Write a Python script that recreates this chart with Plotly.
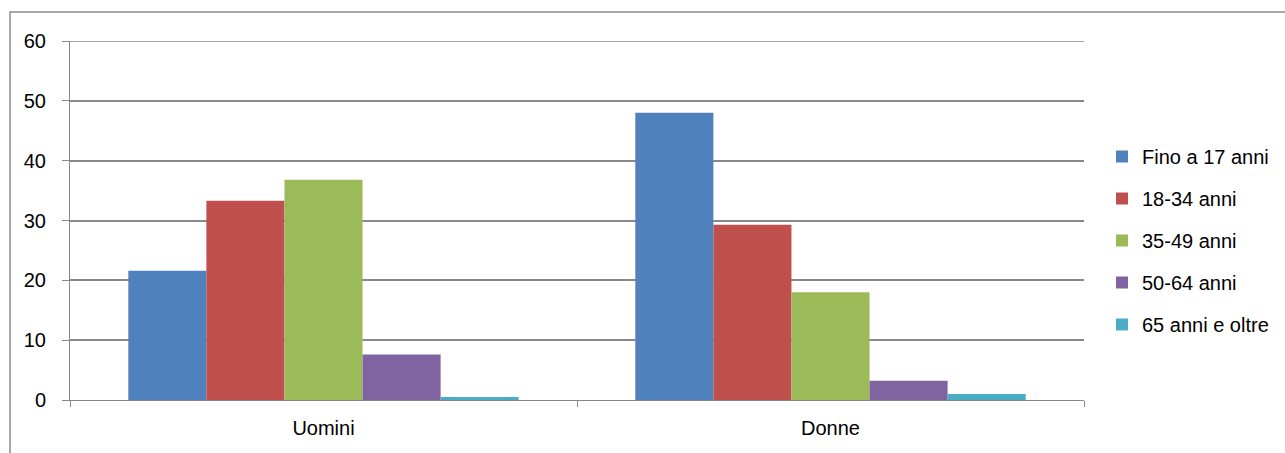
import plotly.graph_objects as go

categories = ["Uomini", "Donne"]
series_names = ["Fino a 17 anni", "18-34 anni", "35-49 anni", "50-64 anni", "65 anni e oltre"]
fino_17 = [21.6, 48.0]
anni_18_34 = [33.3, 29.3]
anni_35_49 = [36.8, 18.0]
anni_50_64 = [7.6, 3.2]
anni_65_oltre = [0.5, 1.0]
colors = ["#4F81BD", "#C0504D", "#9BBB59", "#8064A2", "#4BACC6"]

series_values = [fino_17, anni_18_34, anni_35_49, anni_50_64, anni_65_oltre]

fig = go.Figure()
for i, (name, vals, col) in enumerate(zip(series_names, series_values, colors)):
    fig.add_trace(go.Bar(
        x=categories, y=vals, name=name,
        marker=dict(color=col, line=dict(width=0)),
        legendgroup=f"g{i}",
    ))

W, H = 1285, 453
ml, mr, mt, mb = 70, 200, 41, 53
pw, ph = W - ml - mr, H - mt - mb

def px_x(p):
    return (p - ml) / pw

def px_y(p):
    return (H - mb - p) / ph

grid_col = "#898989"

fig.update_layout(
    width=W, height=H,
    margin=dict(l=ml, r=mr, t=mt, b=mb, pad=0),
    paper_bgcolor="white", plot_bgcolor="white",
    barmode="group", bargap=0.23, bargroupgap=0,
    font=dict(family="Liberation Sans, Arial, sans-serif", size=20, color="black"),
    legend=dict(
        x=px_x(1102), y=px_y(240.5), xanchor="left", yanchor="middle",
        font=dict(size=20), tracegroupgap=13, traceorder="grouped",
        itemwidth=30,
    ),
    xaxis=dict(
        showgrid=False, showline=True, linecolor=grid_col, linewidth=1,
        ticks="outside", tickson="boundaries", ticklen=6, tickcolor=grid_col,
        tickfont=dict(size=20), ticklabelstandoff=10,
    ),
    yaxis=dict(
        range=[0, 60], dtick=10, showgrid=True, gridcolor=grid_col, gridwidth=1.5,
        showline=True, linecolor=grid_col, linewidth=1,
        ticks="outside", ticklen=7, tickcolor=grid_col,
        tickfont=dict(size=20), zeroline=False, ticklabelstandoff=12,
    ),
    shapes=[
        dict(type="rect", xref="paper", yref="paper",
             x0=px_x(10), x1=px_x(W + 20), y0=px_y(H + 20), y1=px_y(12),
             line=dict(color="#8c8c8c", width=1.5), fillcolor="rgba(0,0,0,0)", layer="below"),
        dict(type="line", xref="paper", yref="y", x0=0, x1=1, y0=60, y1=60,
             line=dict(color=grid_col, width=1.5), layer="below"),
    ],
)

fig.write_html("out.html")
